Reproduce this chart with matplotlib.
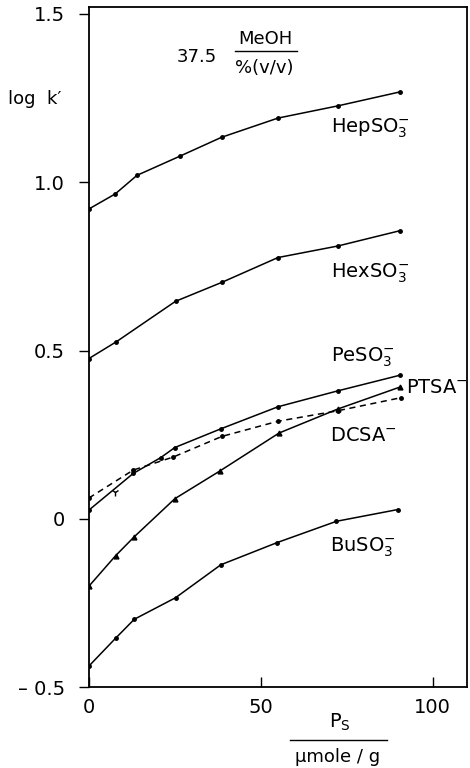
import numpy as np
import matplotlib
matplotlib.use("Agg")
from matplotlib import pyplot as plt

# x values (µmole/g) and log k' for each sulfonate
x_hep = [0, 7.7, 14, 26.5, 38.6, 55, 72.3, 90.6]
y_hep = [0.92, 0.965, 1.02, 1.077, 1.133, 1.19, 1.226, 1.268]

x_hex = [0, 8.0, 25.2, 38.6, 55, 72.3, 90.6]
y_hex = [0.476, 0.526, 0.646, 0.702, 0.776, 0.81, 0.856]

x_pe = [0, 12.9, 20.9, 25, 38.5, 55, 72.3, 90.6]
y_pe = [0.026, 0.135, 0.182, 0.212, 0.268, 0.333, 0.38, 0.427]
# stray PeSO3 point lying off the curve
x_pe_extra = [7.7]
y_pe_extra = [0.079]

x_ptsa = [0, 7.8, 13.2, 25, 38.2, 55.3, 72.3, 90.6]
y_ptsa = [-0.2, -0.109, -0.053, 0.06, 0.143, 0.255, 0.326, 0.392]

x_dcsa = [0, 12.9, 24.6, 38.7, 55, 72.3, 90.8]
y_dcsa = [0.062, 0.145, 0.184, 0.245, 0.29, 0.321, 0.36]

x_bu = [0, 7.8, 13.2, 25.2, 38.4, 54.8, 72, 89.9]
y_bu = [-0.437, -0.354, -0.298, -0.234, -0.136, -0.07, -0.007, 0.028]

labels = [r'HepSO$_3^{-}$', r'HexSO$_3^{-}$', r'PeSO$_3^{-}$',
          r'PTSA$^{-}$', r'DCSA$^{-}$', r'BuSO$_3^{-}$']
label_pos = [(70.5, 1.16), (70.5, 0.73), (70.5, 0.48),
             (92.3, 0.39), (70.0, 0.248), (70.0, -0.085)]

plt.rcParams['font.family'] = ['DejaVu Sans']
plt.rcParams['mathtext.fontset'] = 'dejavusans'

fig = plt.figure(figsize=(4.7, 7.68), dpi=100)
ax = fig.add_axes([0.189, 0.105, 0.805, 0.886])

lw = 1.1
ax.plot(x_hep, y_hep, color='black', linewidth=lw, marker='o', markersize=2.5)
ax.plot(x_hex, y_hex, color='black', linewidth=lw, marker='o', markersize=2.5)
ax.plot(x_pe, y_pe, color='black', linewidth=lw, marker='o', markersize=2.5)
ax.plot(x_pe_extra, y_pe_extra, color='black', linestyle='none', marker='1', markersize=6)
ax.plot(x_ptsa, y_ptsa, color='black', linewidth=lw, marker='^', markersize=3.5)
ax.plot(x_dcsa, y_dcsa, color='black', linewidth=lw, linestyle=(0, (4, 3)),
        marker='o', markersize=2.5)
ax.plot(x_bu, y_bu, color='black', linewidth=lw, marker='o', markersize=2.5)

for text, (tx, ty) in zip(labels, label_pos):
    ax.text(tx, ty, text, fontsize=14, ha='left', va='center', color='black')

# solvent composition note
ax.text(25.6, 1.37, '37.5', fontsize=13, ha='left', va='center')
ax.text(43.5, 1.425, 'MeOH', fontsize=13, ha='left', va='center')
ax.plot([42.5, 60.5], [1.39, 1.39], color='black', linewidth=1.0)
ax.text(42.5, 1.34, '%(v/v)', fontsize=13, ha='left', va='center')

ax.set_xlim(0, 110)
ax.set_ylim(-0.5, 1.52)
ax.set_xticks([0, 50, 100])
ax.set_xticklabels(['0', '50', '100'], fontsize=14)
ax.set_yticks([-0.5, 0, 0.5, 1.0, 1.5])
ax.set_yticklabels(['\u2013 0.5', '0', '0.5', '1.0', '1.5'], fontsize=14)
ax.tick_params(axis='x', direction='in', length=7, width=1.0, pad=8)
ax.tick_params(axis='y', direction='out', length=7, width=1.0, pad=10)
for spine in ax.spines.values():
    spine.set_linewidth(1.3)

fig.text(8 / 470, 1 - 99 / 768, "log  k\u2032", fontsize=13, ha='left', va='center')

# x axis label as a fraction
fig.text(340 / 470, 1 - 722 / 768, r'P$_\mathrm{S}$', fontsize=14, ha='center', va='center')
fig.lines.append(plt.Line2D([290 / 470, 387 / 470], [1 - 740 / 768, 1 - 740 / 768],
                            transform=fig.transFigure, color='black', linewidth=1.0))
fig.text(338 / 470, 1 - 757 / 768, '\u03bcmole / g', fontsize=13, ha='center', va='center')

plt.savefig('out.png', dpi=100)
